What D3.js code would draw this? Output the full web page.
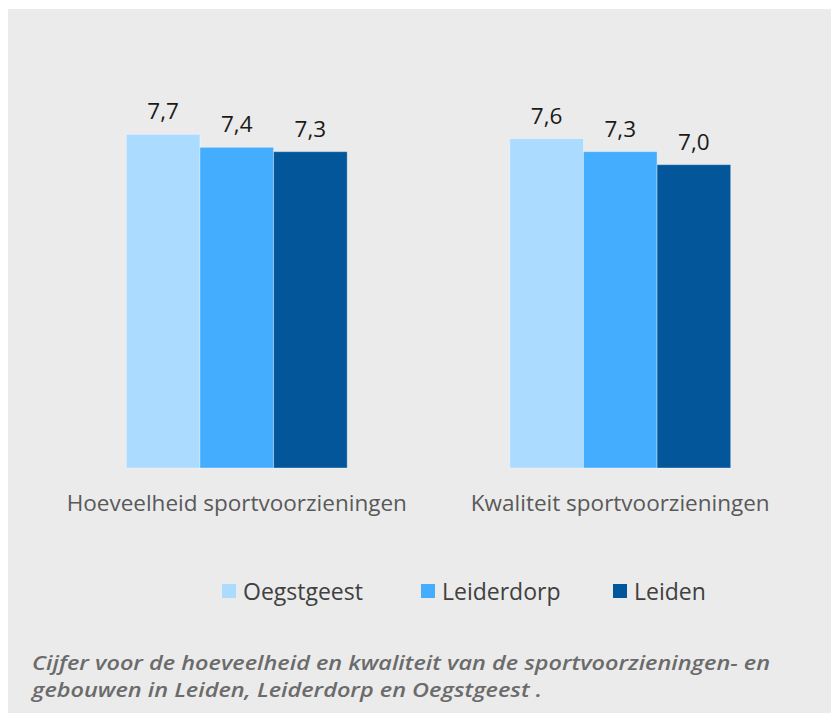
<!DOCTYPE html>
<html>
<head>
<meta charset="utf-8">
<script src="https://cdn.jsdelivr.net/npm/d3@7"></script>
<style>
  html, body { margin: 0; padding: 0; background: #ffffff; }
  svg { display: block; }
  text { font-family: "Open Sans", "Noto Sans", sans-serif; }
</style>
</head>
<body>
<svg id="chart" width="831" height="715"></svg>
<script>
// Scores (cijfers) per municipality
const categories = ["Hoeveelheid sportvoorzieningen", "Kwaliteit sportvoorzieningen"];
const municipalities = ["Oegstgeest", "Leiderdorp", "Leiden"];
const oegstgeest = [7.7, 7.6];
const leiderdorp = [7.4, 7.3];
const leiden = [7.3, 7.0];
const captionLines = [
  "Cijfer voor de hoeveelheid en kwaliteit van de sportvoorzieningen- en",
  "gebouwen in Leiden, Leiderdorp en Oegstgeest ."
];

const seriesValues = [oegstgeest, leiderdorp, leiden];
const colors = ["#abdbff", "#44adfe", "#03569a"];

const svg = d3.select("#chart");

// panel background
svg.append("rect")
  .attr("x", 8).attr("y", 9)
  .attr("width", 823).attr("height", 704)
  .attr("fill", "#ebebeb");

const baseline = 468;
const y = d3.scaleLinear().domain([0, 9]).range([baseline, 78]);

const x0 = d3.scaleBand()
  .domain(categories)
  .range([45, 812])
  .paddingInner(0.424)
  .paddingOuter(0.212);

const x1 = d3.scaleBand()
  .domain(municipalities)
  .range([0, x0.bandwidth()]);

const rows = categories.map((c, i) => ({
  category: c,
  values: municipalities.map((m, j) => ({ name: m, value: seriesValues[j][i], color: colors[j] }))
}));

const groups = svg.append("g").selectAll("g")
  .data(rows)
  .join("g")
  .attr("transform", d => `translate(${x0(d.category)},0)`);

groups.selectAll("rect")
  .data(d => d.values)
  .join("rect")
  .attr("x", d => x1(d.name))
  .attr("y", d => y(d.value))
  .attr("width", x1.bandwidth())
  .attr("height", d => baseline - y(d.value))
  .attr("fill", d => d.color)
  .attr("stroke", "rgba(255,255,255,0.35)")
  .attr("stroke-width", 1);

groups.selectAll("text.val")
  .data(d => d.values)
  .join("text")
  .attr("class", "val")
  .attr("x", d => x1(d.name) + x1.bandwidth() / 2)
  .attr("y", d => y(d.value) - 15)
  .attr("text-anchor", "middle")
  .attr("font-size", 22.5)
  .attr("fill", "#1a1a1a")
  .text(d => d3.format(".1f")(d.value).replace(".", ","));

// category axis labels
svg.append("g").selectAll("text")
  .data(categories)
  .join("text")
  .attr("x", d => x0(d) + x0.bandwidth() / 2)
  .attr("y", 511)
  .attr("text-anchor", "middle")
  .attr("font-size", 22.5)
  .attr("fill", "#595959")
  .text(d => d);

// legend
const legendX = [222, 421, 613];
const legend = svg.append("g").selectAll("g")
  .data(municipalities)
  .join("g")
  .attr("transform", (d, i) => `translate(${legendX[i]},584)`);
legend.append("rect")
  .attr("width", 14).attr("height", 14)
  .attr("fill", (d, i) => colors[i]);
legend.append("text")
  .attr("x", 21).attr("y", 16)
  .attr("font-size", 23)
  .attr("fill", "#404040")
  .text(d => d);

// caption
svg.append("g").selectAll("text")
  .data(captionLines)
  .join("text")
  .attr("x", 32)
  .attr("y", (d, i) => 670 + i * 27)
  .attr("font-size", 19.5)
  .attr("font-style", "italic")
  .attr("font-weight", 600)
  .attr("fill", "#6b6b6b")
  .attr("textLength", (d, i) => i === 0 ? 738 : 510)
  .attr("lengthAdjust", "spacingAndGlyphs")
  .text(d => d);
</script>
</body>
</html>
